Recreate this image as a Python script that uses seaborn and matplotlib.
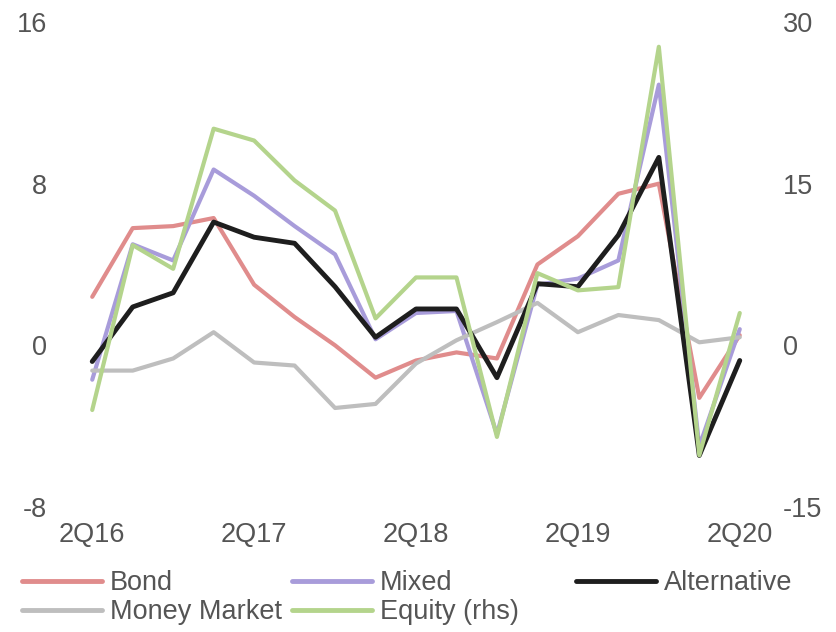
import matplotlib
matplotlib.use("Agg")
import matplotlib.pyplot as plt
import seaborn as sns
import pandas as pd
import numpy as np

quarters = ["2Q16", "3Q16", "4Q16", "1Q17", "2Q17", "3Q17", "4Q17", "1Q18", "2Q18",
            "3Q18", "4Q18", "1Q19", "2Q19", "3Q19", "4Q19", "1Q20", "2Q20"]
tick_labels = ["2Q16", "2Q17", "2Q18", "2Q19", "2Q20"]
bond = [2.4, 5.8, 5.9, 6.3, 3.0, 1.4, 0.0, -1.6, -0.75, -0.35, -0.65, 4.0, 5.4, 7.5, 8.0, -2.6, 0.5]
mixed = [-1.7, 5.0, 4.2, 8.7, 7.4, 5.9, 4.5, 0.3, 1.6, 1.7, -4.4, 3.0, 3.3, 4.2, 12.9, -5.0, 0.8]
alternative = [-0.8, 1.9, 2.6, 6.1, 5.35, 5.05, 2.9, 0.4, 1.8, 1.8, -1.6, 3.05, 2.9, 5.45, 9.3, -5.45, -0.75]
money_market = [-1.25, -1.25, -0.65, 0.65, -0.85, -1.0, -3.1, -2.9, -0.9, 0.25, 1.15, 2.1, 0.65, 1.5, 1.25, 0.15, 0.4]
equity_rhs = [-6.0, 9.3, 7.1, 20.1, 19.0, 15.3, 12.5, 2.5, 6.3, 6.3, -8.5, 6.7, 5.1, 5.4, 27.7, -10.2, 3.0]

sns.set_theme(style="white")
plt.rcParams["font.family"] = ["Liberation Sans", "DejaVu Sans"]
plt.rcParams["axes.unicode_minus"] = False

colors = {"Bond": "#E08C8C", "Mixed": "#A89CDA", "Alternative": "#1E1E1E",
          "Money Market": "#BEBEBE", "Equity (rhs)": "#B4D48C"}
txt = "#555555"
fs = 19.5

idx = np.arange(len(quarters))
df = pd.DataFrame({"x": idx, "Bond": bond, "Mixed": mixed, "Alternative": alternative,
                   "Money Market": money_market, "Equity (rhs)": equity_rhs})

fig = plt.figure(figsize=(8.36, 6.32), dpi=100)
ax = fig.add_axes([72/836, 1 - 507/632, 688/836, 485/632])
ax2 = ax.twinx()

handles = {}
for name, lw in [("Bond", 3.0), ("Mixed", 3.0), ("Money Market", 3.0), ("Alternative", 3.5)]:
    sns.lineplot(data=df, x="x", y=name, ax=ax, color=colors[name], linewidth=lw, legend=False)
    handles[name] = ax.lines[-1]
sns.lineplot(data=df, x="x", y="Equity (rhs)", ax=ax2, color=colors["Equity (rhs)"], linewidth=3.0, legend=False)
handles["Equity (rhs)"] = ax2.lines[-1]

ax.set_xlim(-0.5, 16.5)
ax.set_ylim(-8, 16)
ax2.set_ylim(-15, 30)
ax.set_yticks([-8, 0, 8, 16])
ax2.set_yticks([-15, 0, 15, 30])
ax.set_xticks([0, 4, 8, 12, 16])
ax.set_xticklabels(tick_labels)
for a in (ax, ax2):
    a.set_xlabel("")
    a.set_ylabel("")
    for s in a.spines.values():
        s.set_visible(False)
    a.grid(False)
ax.tick_params(axis="y", length=0, pad=18, labelsize=fs, labelcolor=txt)
ax2.tick_params(axis="y", length=0, pad=16.5, labelsize=fs, labelcolor=txt)
ax.tick_params(axis="x", length=0, pad=11, labelsize=fs, labelcolor=txt)
ax.patch.set_alpha(0)

cols = [(["Bond", "Money Market"], 22), (["Mixed", "Equity (rhs)"], 292), (["Alternative"], 576)]
for labels, xpx in cols:
    leg = fig.legend([handles[l] for l in labels], labels, loc="upper left",
                     bbox_to_anchor=(xpx/836, 1 - 570/632), frameon=False, fontsize=fs,
                     handlelength=2.95, handletextpad=0.3, borderpad=0, borderaxespad=0,
                     labelspacing=0.12)
    for t in leg.get_texts():
        t.set_color(txt)
    for l in leg.get_lines():
        l.set_linewidth(3.5)

fig.savefig("out.png", dpi=100)
